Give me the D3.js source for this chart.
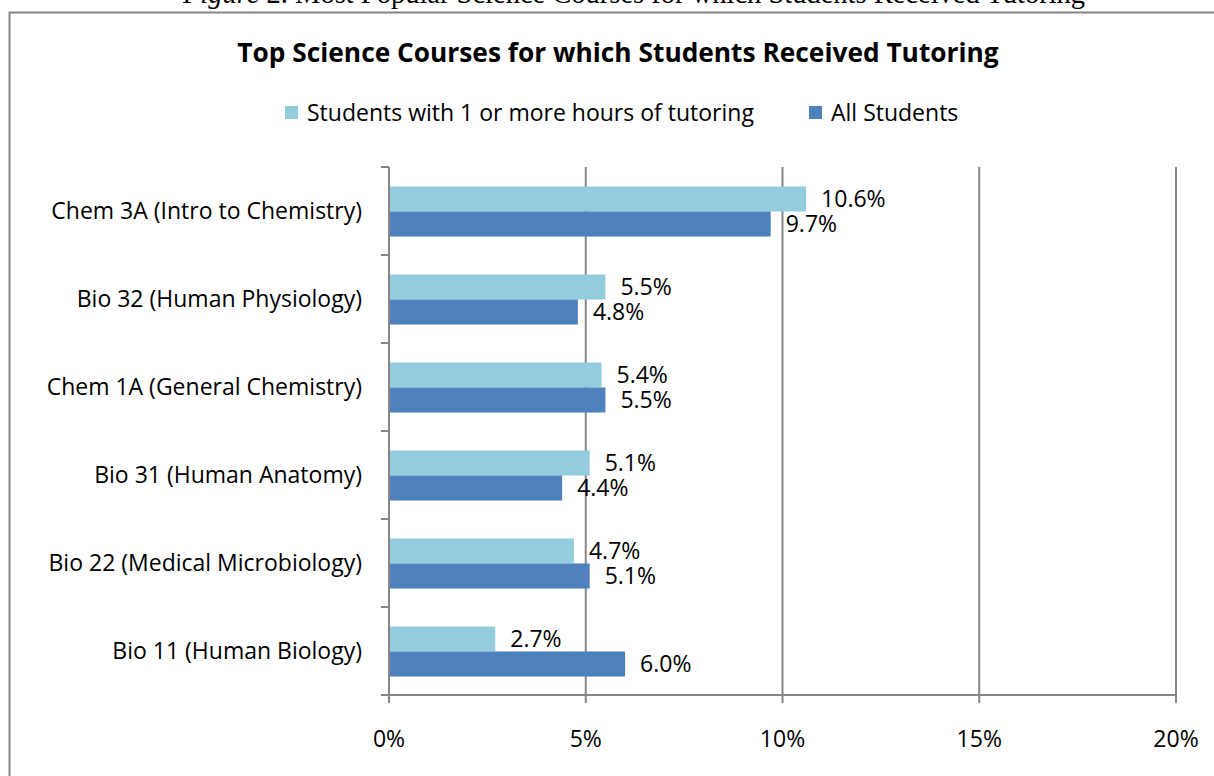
<!DOCTYPE html>
<html>
<head>
<meta charset="utf-8">
<script src="https://cdn.jsdelivr.net/npm/d3@7"></script>
<style>
  body { margin: 0; background: #fff; }
  svg text { font-family: "Open Sans", sans-serif; }
</style>
</head>
<body>
<div id="chart"></div>
<script>
// data
var courses = ["Chem 3A (Intro to Chemistry)", "Bio 32 (Human Physiology)", "Chem 1A (General Chemistry)",
  "Bio 31 (Human Anatomy)", "Bio 22 (Medical Microbiology)", "Bio 11 (Human Biology)"];
var tutored = [10.6, 5.5, 5.4, 5.1, 4.7, 2.7];
var allStudents = [9.7, 4.8, 5.5, 4.4, 5.1, 6.0];
var seriesNames = ["Students with 1 or more hours of tutoring", "All Students"];
var xTicks = [0, 5, 10, 15, 20];

var width = 1214, height = 776;
var colors = ["#93cddd", "#4f81bd"];
var grid = "#868686";
var fs = '23px';

var svg = d3.select('#chart').append('svg')
  .attr('width', width).attr('height', height);

// caption above the chart box (cut off at top, as in the source page)
svg.append('text')
  .attr('x', 634).attr('y', 3)
  .attr('text-anchor', 'middle')
  .style('font-family', '"Liberation Serif", serif')
  .style('font-size', '28.5px')
  .html('<tspan font-style="italic">Figure</tspan> 2. Most Popular Science Courses for which Students Received Tutoring');

// chart frame
svg.append('rect')
  .attr('x', 9.5).attr('y', 12.5)
  .attr('width', 1220).attr('height', 800)
  .attr('fill', '#fff').attr('stroke', grid).attr('stroke-width', 2);

svg.append('text')
  .attr('x', 618).attr('y', 62)
  .attr('text-anchor', 'middle')
  .style('font-size', '26.3px').style('font-weight', 'bold')
  .text('Top Science Courses for which Students Received Tutoring');

// legend
var legX = [285, 809];
seriesNames.forEach(function(name, i) {
  svg.append('rect').attr('x', legX[i]).attr('y', 106).attr('width', 13).attr('height', 13).attr('fill', colors[i]);
  svg.append('text').attr('x', legX[i] + 22).attr('y', 121)
    .style('font-size', fs).text(name);
});

var x = d3.scaleLinear().domain([0, 20]).range([389, 1176]);
var y = d3.scaleBand().domain(courses).range([167, 695]);
var barH = 25;

var g = svg.append('g');

// vertical gridlines
g.selectAll('.grid').data(xTicks.slice(1)).enter().append('line')
  .attr('x1', d => x(d)).attr('x2', d => x(d))
  .attr('y1', 167).attr('y2', 703)
  .attr('stroke', grid).attr('stroke-width', 2);

// axes
g.append('line').attr('x1', 389).attr('x2', 389).attr('y1', 167).attr('y2', 703)
  .attr('stroke', grid).attr('stroke-width', 2);
g.append('line').attr('x1', 389).attr('x2', x(20) + 1).attr('y1', 695).attr('y2', 695)
  .attr('stroke', grid).attr('stroke-width', 2);
var yTicks = d3.range(courses.length + 1).map(i => 167 + i * y.step());
g.selectAll('.ytick').data(yTicks).enter().append('line')
  .attr('x1', 381).attr('x2', 389).attr('y1', d => d).attr('y2', d => d)
  .attr('stroke', grid).attr('stroke-width', 2);

// x tick labels
g.selectAll('.xlab').data(xTicks).enter().append('text')
  .attr('x', d => x(d)).attr('y', 747)
  .attr('text-anchor', 'middle')
  .style('font-size', fs)
  .text(d => d + '%');

// category labels
g.selectAll('.ylab').data(courses).enter().append('text')
  .attr('x', 362).attr('y', d => y(d) + y.bandwidth() / 2 + 8)
  .attr('text-anchor', 'end')
  .style('font-size', fs)
  .text(d => d);

// bars
[tutored, allStudents].forEach(function(vals, s) {
  var rows = courses.map((c, i) => ({ c: c, v: vals[i] }));
  g.selectAll('.bar' + s).data(rows).enter().append('rect')
    .attr('x', x(0) + 1)
    .attr('y', d => y(d.c) + 19.5 + s * barH)
    .attr('width', d => x(d.v) - x(0) - 1)
    .attr('height', barH)
    .attr('fill', colors[s]);
  g.selectAll('.lab' + s).data(rows).enter().append('text')
    .attr('x', d => x(d.v) + 15)
    .attr('y', d => y(d.c) + 19.5 + s * barH + barH / 2 + 8)
    .style('font-size', fs)
    .text(d => d.v.toFixed(1) + '%');
});
</script>
</body>
</html>
